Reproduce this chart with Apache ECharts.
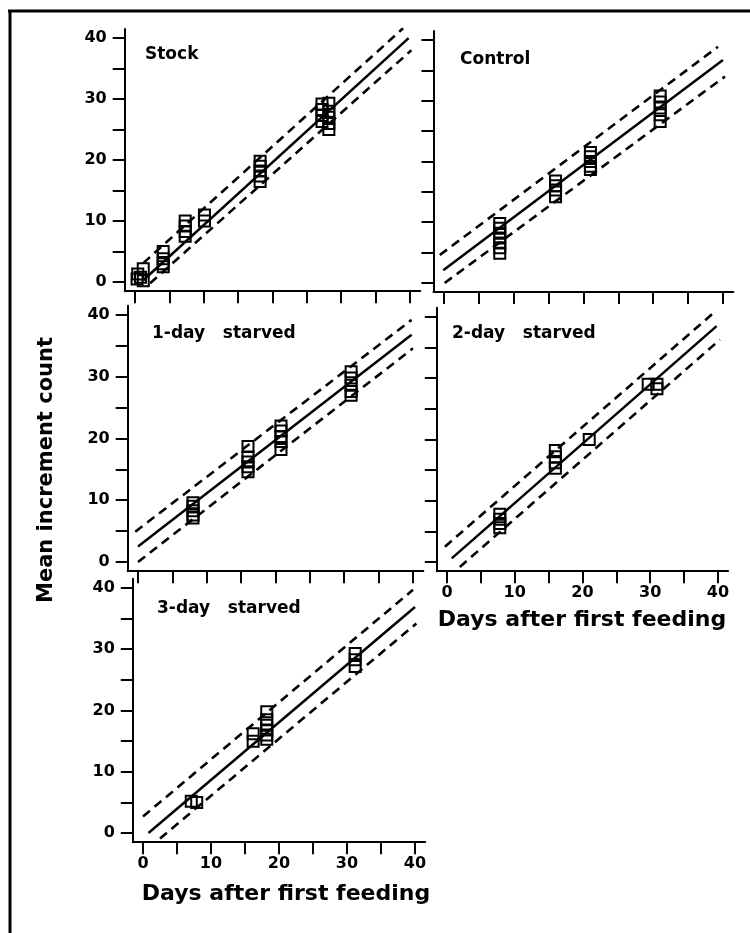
<!DOCTYPE html>
<html>
<head>
<meta charset="utf-8">
<script src="https://cdn.jsdelivr.net/npm/echarts@6/dist/echarts.min.js"></script>
<style>
html, body { margin: 0; padding: 0; background: #fff; }
#main { width: 750px; height: 933px; }
</style>
</head>
<body>
<div id="main"></div>
<script>
// ticks every 5 days / counts, labels every 10
var tickValues = [0, 5, 10, 15, 20, 25, 30, 35, 40];
var labelValues = [0, 10, 20, 30, 40];

var panelNames = ['Stock', 'Control', '1-day   starved', '2-day   starved', '3-day   starved'];
var xTitle = 'Days after first feeding';
var yTitle = 'Mean increment count';

// Stock
var stockPoints = [
    [0.3, 0.5], [0.4, 1.3], [0.8, 0.8], [1.2, 2.2], [1.2, 0.2],
    [4.1, 5.0], [4.1, 3.8], [4.1, 3.0], [4.1, 2.5],
    [7.3, 10.0], [7.3, 9.2], [7.3, 8.3], [7.3, 7.5],
    [10.1, 11.0], [10.1, 10.0],
    [18.2, 19.8], [18.2, 19.0], [18.2, 18.2], [18.2, 17.4], [18.2, 16.5],
    [27.2, 29.2], [27.2, 28.3], [27.2, 27.3], [27.2, 26.3],
    [28.2, 29.3], [28.2, 28.0], [28.2, 27.0], [28.2, 26.0], [28.2, 25.0]
];
var stockFit = [[1.2, 0.3], [39.8, 40.0]];
var stockUpper = [[1.2, 3.1], [39.0, 41.6]];
var stockLower = [[2.2, -0.2], [40.2, 38.0]];

// Control
var controlPoints = [
    [8, 9.8], [8, 9.0], [8, 8.2], [8, 7.4], [8, 6.6], [8, 5.8], [8, 4.9],
    [16, 16.8], [16, 16.0], [16, 15.3], [16, 14.2],
    [21, 21.5], [21, 20.8], [21, 20.0], [21, 19.2], [21, 18.7],
    [31, 30.8], [31, 29.8], [31, 28.8], [31, 27.7], [31, 26.6]
];
var controlFit = [[-0.1, 2.1], [40.0, 36.7]];
var controlUpper = [[-0.6, 4.6], [39.3, 38.9]];
var controlLower = [[0.1, 0.0], [40.3, 34.0]];

// 1-day starved
var day1Points = [
    [8, 9.6], [8, 9.0], [8, 8.3], [8, 7.6], [8, 7.1],
    [16, 18.7], [16, 17.0], [16, 16.2], [16, 15.4], [16, 14.6],
    [20.8, 22.0], [20.8, 21.2], [20.8, 20.3], [20.8, 19.5], [20.8, 18.2],
    [31, 30.8], [31, 29.8], [31, 28.6], [31, 27.6], [31, 27.0]
];
var day1Fit = [[0.0, 2.5], [39.8, 36.8]];
var day1Upper = [[-0.4, 4.9], [39.8, 39.2]];
var day1Lower = [[0.0, 0.0], [40.0, 34.6]];

// 2-day starved
var day2Points = [
    [7.8, 7.8], [7.8, 7.0], [7.8, 6.3], [7.8, 5.6],
    [16, 18.2], [16, 17.2], [16, 16.2], [16, 15.3],
    [21, 20.0],
    [29.7, 29.0], [31, 29.0], [31, 28.3]
];
var day2Fit = [[0.7, 0.6], [39.8, 38.5]];
var day2Upper = [[-0.3, 2.5], [39.6, 40.9]];
var day2Lower = [[1.9, -0.8], [40.3, 36.3]];

// 3-day starved
var day3Points = [
    [7.1, 5.2], [7.9, 5.0],
    [16.2, 16.2], [16.2, 15.0],
    [18.2, 19.8], [18.2, 18.5], [18.2, 17.6], [18.2, 16.8], [18.2, 16.0], [18.2, 15.3],
    [31.2, 29.3], [31.2, 28.3], [31.2, 27.2]
];
var day3Fit = [[0.8, 0.0], [40.0, 36.9]];
var day3Upper = [[0.0, 2.7], [39.7, 39.7]];
var day3Lower = [[2.5, -0.9], [40.2, 34.2]];

var panels = [
    { points: stockPoints, fit: stockFit, upper: stockUpper, lower: stockLower },
    { points: controlPoints, fit: controlFit, upper: controlUpper, lower: controlLower },
    { points: day1Points, fit: day1Fit, upper: day1Upper, lower: day1Lower },
    { points: day2Points, fit: day2Fit, upper: day2Upper, lower: day2Lower },
    { points: day3Points, fit: day3Fit, upper: day3Upper, lower: day3Lower }
];

// grid boxes (axis line rectangles) and which labels each panel shows
var grids = [
    { left: 124.7, top: 28.9, width: 295.6, height: 262.3, xLab: false, yLab: true },
    { left: 433.5, top: 30.9, width: 299.9, height: 261.2, xLab: false, yLab: false },
    { left: 127.7, top: 305.7, width: 295.6, height: 265.5, xLab: false, yLab: true },
    { left: 436.8, top: 307.8, width: 291.3, height: 263.4, xLab: true, yLab: false },
    { left: 132.8, top: 578.8, width: 292.4, height: 263.4, xLab: true, yLab: true }
];
var nameSpots = [[145, 55], [460, 60], [152, 334], [452, 334], [157, 609]];

var font = '"DejaVu Sans", sans-serif';
var myChart = echarts.init(document.getElementById('main'));

var grid = [], xAxis = [], yAxis = [], series = [], graphic = [];

function axisOf(i, showLabel, margin) {
    return {
        gridIndex: i,
        type: 'value',
        min: -1.5,
        max: 41.5,
        splitLine: { show: false },
        axisLine: { show: true, onZero: false, lineStyle: { color: '#000', width: 2 } },
        axisTick: { show: true, length: 12, customValues: tickValues, lineStyle: { color: '#000', width: 2 } },
        axisLabel: {
            show: showLabel,
            customValues: labelValues,
            margin: margin,
            color: '#000',
            fontFamily: font,
            fontWeight: 'bold',
            fontSize: 16
        }
    };
}

for (var i = 0; i < grids.length; i++) {
    var g = grids[i];
    grid.push({ left: g.left, top: g.top, width: g.width, height: g.height, containLabel: false, outerBoundsMode: 'none' });
    xAxis.push(axisOf(i, g.xLab, 14));
    yAxis.push(axisOf(i, g.yLab, 18));

    var p = panels[i];
    series.push({
        type: 'line', xAxisIndex: i, yAxisIndex: i, data: p.fit, symbol: 'none',
        lineStyle: { color: '#000', width: 2.5 }, silent: true
    });
    series.push({
        type: 'line', xAxisIndex: i, yAxisIndex: i, data: p.upper, symbol: 'none',
        lineStyle: { color: '#000', width: 2.6, type: [9, 6] }, silent: true
    });
    series.push({
        type: 'line', xAxisIndex: i, yAxisIndex: i, data: p.lower, symbol: 'none',
        lineStyle: { color: '#000', width: 2.6, type: [9, 6] }, silent: true
    });
    series.push({
        type: 'scatter', xAxisIndex: i, yAxisIndex: i, data: p.points,
        symbol: 'rect', symbolSize: 11,
        itemStyle: { color: 'rgba(0,0,0,0)', borderColor: '#000', borderWidth: 2, opacity: 1 }
    });

    graphic.push({
        type: 'text', x: nameSpots[i][0], y: nameSpots[i][1],
        style: {
            text: panelNames[i], fill: '#000', font: 'bold 17px ' + font,
            align: 'left', verticalAlign: 'middle', textAlign: 'left', textVerticalAlign: 'middle'
        }
    });
}

// frame: top and left edges only
graphic.push({ type: 'line', shape: { x1: 8, y1: 11, x2: 750, y2: 11 }, style: { stroke: '#000', lineWidth: 3 } });
graphic.push({ type: 'line', shape: { x1: 10, y1: 10, x2: 10, y2: 933 }, style: { stroke: '#000', lineWidth: 3 } });

// axis titles
var titleStyle = {
    fill: '#000', font: 'bold 22px ' + font,
    align: 'center', verticalAlign: 'middle', textAlign: 'center', textVerticalAlign: 'middle'
};
graphic.push({ type: 'text', x: 286, y: 894, style: Object.assign({ text: xTitle }, titleStyle) });
graphic.push({ type: 'text', x: 582, y: 620, style: Object.assign({ text: xTitle }, titleStyle) });
graphic.push({
    type: 'text', x: 47, y: 470, rotation: Math.PI / 2,
    style: Object.assign({}, titleStyle, { text: yTitle, font: 'bold 21px ' + font })
});

option = {
    backgroundColor: '#fff',
    animation: false,
    grid: grid,
    xAxis: xAxis,
    yAxis: yAxis,
    series: series,
    graphic: graphic
};
myChart.setOption(option);
</script>
</body>
</html>
